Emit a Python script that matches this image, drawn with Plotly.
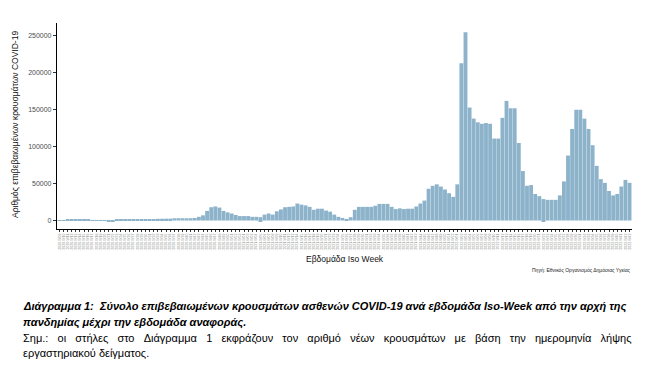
import plotly.graph_objects as go

# ---------------- data ----------------
start_year, start_week = 2020, 9
weekly_cases = [
    100, 600, 1000, 1100, 1000, 900, 800, 700, 600, 600,
    500, 500, -700, -700, 700, 800, 900, 900, 1000, 1000,
    1100, 1200, 1200, 1300, 2300, 2400, 2500, 2500, 3000, 3100,
    3100, 3000, 3100, 3400, 5000, 7000, 13000, 18000, 19000, 17500,
    13000, 11000, 9500, 7500, 6000, 6000, 6000, 5000, 5000, 4500,
    8000, 9500, 8000, 12500, 15000, 18000, 18500, 19000, 23000, 21500,
    20500, 18500, 14500, 16000, 16000, 13500, 12000, 8000, 5000, 3500,
    2000, 4500, 14500, 18500, 18500, 18500, 18500, 20000, 22500, 22500,
    22500, 18500, 15500, 16500, 15500, 16000, 16000, 19000, 23000, 27000,
    43000, 47000, 49000, 46000, 42000, 37000, 32000, 49000, 213000, 255000,
    153000, 138000, 133000, 131000, 132000, 131000, 111000, 111000, 139000, 162000,
    152000, 152000, 105000, 67000, 47000, 48000, 36000, 33000, 29000, 28000,
    28000, 28000, 34000, 53000, 88000, 124000, 150000, 150000, 138000, 124000,
    102000, 74000, 56000, 51000, 40000, 34000, 36000, 46000, 55000, 51000,
]
# negative corrections visible under some bars
corrections = {49: -1500, 118: -2000}

y_ticks = [0, 50000, 100000, 150000, 200000, 250000]
y_title = "Αριθμός επιβεβαιωμένων κρουσμάτων COVID-19"
x_title = "Εβδομάδα Iso Week"
source_text = "Πηγή: Εθνικός Οργανισμός Δημόσιας Υγείας"
caption_1 = "Διάγραμμα 1:  Σύνολο επιβεβαιωμένων κρουσμάτων ασθενών COVID-19 ανά εβδομάδα Iso-Week από την αρχή της"
caption_2 = "πανδημίας μέχρι την εβδομάδα αναφοράς."
note_1 = "Σημ.: οι στήλες στο Διάγραμμα 1 εκφράζουν τον αριθμό νέων κρουσμάτων με βάση την ημερομηνία λήψης"
note_2 = "εργαστηριακού δείγματος."

# ISO week labels
weeks_in_year = {2020: 53, 2021: 52, 2022: 52}
week_labels = []
y, w = start_year, start_week
for _ in weekly_cases:
    week_labels.append(f"{y}-W{w:02d}")
    w += 1
    if w > weeks_in_year[y]:
        y, w = y + 1, 1

corr_vals = [corrections.get(i, 0) for i in range(len(weekly_cases))]

# ---------------- figure ----------------
W, H = 658, 378
L, R, T, B = 57, 26, 23, 149
PW, PH = W - L - R, H - T - B

def px(x):
    return (x - L) / PW

def py(y):
    return (H - B - y) / PH

def justify(text, n_spaces):
    # widen inter-word gaps (the reference paragraph is justified)
    return ("\u00a0" * n_spaces).join(text.split(" "))

BAR = "#8db3cb"
fig = go.Figure()
fig.add_trace(go.Bar(x=week_labels, y=weekly_cases, marker=dict(color=BAR, line=dict(width=0)),
                     hoverinfo="x+y"))
fig.add_trace(go.Bar(x=week_labels, y=corr_vals, marker=dict(color=BAR, line=dict(width=0)),
                     hoverinfo="x+y"))

fig.update_layout(
    width=W, height=H,
    margin=dict(l=L, r=R, t=T, b=B, pad=0),
    paper_bgcolor="white", plot_bgcolor="white",
    barmode="relative", bargap=0.06,
    showlegend=False,
    font=dict(family="Liberation Sans, Arial, sans-serif", color="#222"),
)
fig.update_xaxes(
    type="category", range=[-0.6, len(weekly_cases) - 0.4],
    showline=True, linecolor="black", linewidth=1.2,
    ticks="outside", ticklen=2, tickwidth=1, tickcolor="#333",
    tickmode="array", tickvals=week_labels, ticktext=week_labels,
    tickangle=-90, tickfont=dict(size=3.5, color="#8a8a8a"),
    showgrid=False, zeroline=False,
)
fig.update_yaxes(
    range=[-11500, 267500],
    showline=True, linecolor="black", linewidth=1.2,
    ticks="outside", ticklen=3, tickwidth=1, tickcolor="#333",
    tickvals=y_ticks, ticktext=[str(v) for v in y_ticks],
    tickfont=dict(size=7, color="#4d4d4d"),
    showgrid=False, zeroline=False,
)

ann = [
    dict(text=y_title, x=px(15), y=py(125), textangle=-90, font=dict(size=8.5, color="#111"),
         xanchor="center", yanchor="middle"),
    dict(text=x_title, x=px(344.5), y=py(259), font=dict(size=8.5, color="#111"),
         xanchor="center", yanchor="middle"),
    dict(text=source_text, x=px(633), y=py(269.5), font=dict(size=5, color="#222"),
         xanchor="right", yanchor="middle"),
    dict(text=f"<b><i>{caption_1}</i></b>", x=px(21), y=py(306.5),
         font=dict(size=11, color="#000"), xanchor="left", yanchor="middle"),
    dict(text=f"<b><i>{caption_2}</i></b>", x=px(21), y=py(322),
         font=dict(size=11, color="#000"), xanchor="left", yanchor="middle"),
    dict(text=justify(note_1, 3), x=px(21), y=py(338), font=dict(size=11, color="#000"),
         xanchor="left", yanchor="middle"),
    dict(text=note_2, x=px(21), y=py(353), font=dict(size=11, color="#000"),
         xanchor="left", yanchor="middle"),
]
for a in ann:
    a.update(xref="paper", yref="paper", showarrow=False)
fig.update_layout(annotations=ann)

fig.write_html(
    "out.html",
    config={"displayModeBar": False},
    post_script="document.body.style.margin='0';document.body.style.padding='0';",
)
